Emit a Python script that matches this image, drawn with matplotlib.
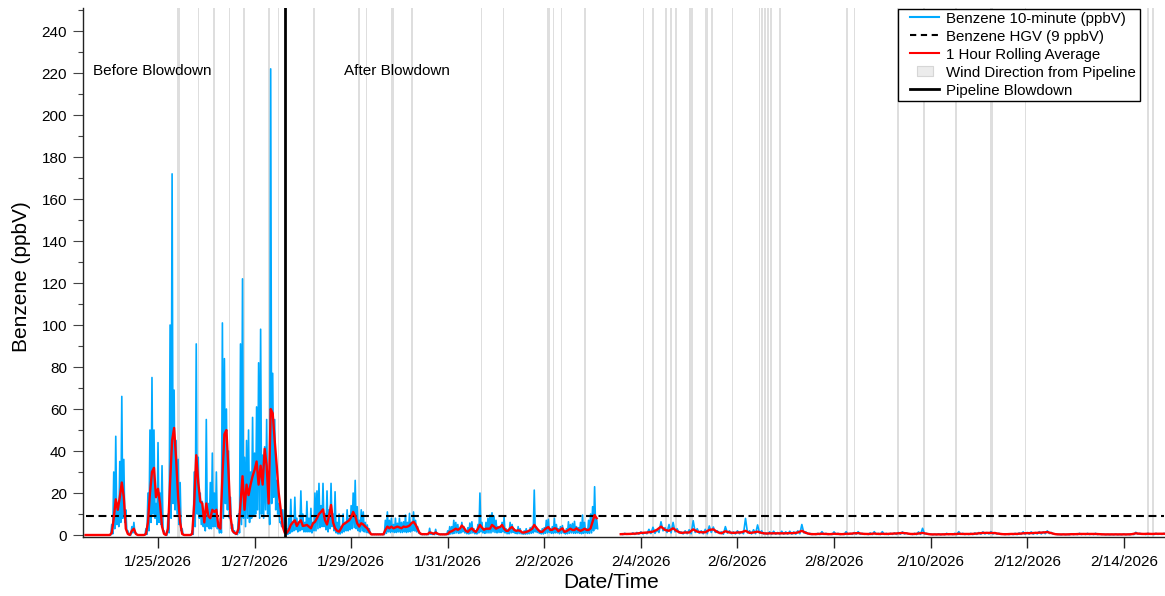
import numpy as np
import pandas as pd
import matplotlib
matplotlib.use("Agg")
import matplotlib.pyplot as plt
from matplotlib.lines import Line2D
from matplotlib.patches import Rectangle
from matplotlib.path import Path

plt.rcParams['font.family'] = ['Liberation Sans', 'DejaVu Sans']

# ---------------- data ----------------
# Part A: hourly peak / trough readings of the 10-minute series, from 1/23/2026 12:00
start_a = '2026-01-23 12:00'
blue_a = [
    0, 0, 0, 0, 0, 0, 0, 0, 0, 0,
    0, 0, 0, 5, 30, 47, 15, 35, 66, 36,
    12, 2, 0, 4, 6, 1, 0, 0, 0, 0,
    3, 20, 50, 75, 50, 15, 44, 20, 33, 2,
    0, 10, 100, 172, 69, 45, 36, 25, 3, 0,
    0, 0, 0, 2, 30, 91, 37, 20, 16, 8,
    55, 15, 25, 39, 20, 30, 6, 8, 101, 84,
    60, 40, 18, 5, 2, 1, 10, 91, 122, 37,
    45, 50, 30, 56, 39, 61, 82, 98, 38, 42,
    55, 25, 222, 77, 55, 26, 15, 6, 12, 8,
    3, 8, 17, 5, 18, 8, 5, 21, 10, 6,
    16, 8, 12.7, 6, 20, 21, 24.6, 14, 24.6, 10,
    21, 12, 24.6, 10, 20.6, 6, 10, 4, 10, 6,
    12, 8, 14, 20, 26, 13.5, 7, 12, 11, 6,
    4.8, 3, 0.5, 0.5, 0.5, 0.5, 0.5, 0.5, 0.5, 7,
    11, 7, 8, 5, 8, 5.6, 8, 6, 6.3, 9.5,
    6, 10.3, 6, 11, 7, 4, 1, 0.5, 0.5, 0.5,
    0.5, 3.2, 0.5, 1, 2.7, 0.5, 0.5, 0.5, 0.5, 0.5,
    2, 4, 4, 7, 6, 5, 2, 6, 4, 2,
    3.5, 5.7, 6.3, 3, 2, 5, 20, 6, 3, 6,
    8, 9.5, 10.6, 9, 7, 4, 3, 6, 8.5, 3,
    2.5, 6, 5, 3, 2, 4, 3, 1, 2, 3,
    2, 3.5, 4, 21.4, 4, 2.5, 2, 3, 3.5, 7,
    7.5, 3, 4, 8, 5, 3, 4, 4.5, 1.5, 3,
    6.3, 5, 5.5, 6.5, 4, 3.5, 6, 9.5, 6, 3,
    7, 10, 13.5, 23, 8,
]
blue_a_low = [
    0, 0, 0, 0, 0, 0, 0, 0, 0, 0,
    0, 0, 0, 0.5, 3, 5, 4, 6, 8, 6,
    2, 0.3, 0, 1, 1, 0.2, 0, 0, 0, 0,
    0.3, 2, 6, 10, 8, 5, 6, 5, 2, 0.2,
    0, 1, 8, 15, 12, 10, 5, 2, 0.2, 0,
    0, 0, 0, 0.3, 4, 10, 8, 5, 4, 2,
    4, 3, 3, 4, 4, 3, 1, 1, 8, 15,
    12, 8, 3, 1, 0.3, 0.2, 1, 5, 8, 4,
    8, 6, 8, 9, 10, 12, 8, 10, 8, 12,
    10, 5, 15, 18, 12, 10, 6, 4, 2, 0.5,
    0.3, 0.8, 1.5, 2, 2.5, 1.5, 2, 2.5, 1.5, 1.5,
    1.5, 1.5, 1, 2, 2, 3, 3.5, 4, 4, 2.5,
    1.5, 3, 4, 2, 1, 0.5, 0.5, 1, 1.5, 2,
    2, 2.5, 3, 3.5, 3, 2, 1.5, 2, 1.5, 1.2,
    1, 0.5, 0.2, 0.2, 0.2, 0.2, 0.2, 0.2, 0.2, 0.8,
    1.5, 1.2, 1.5, 1.2, 1.2, 1.5, 1.2, 1.2, 1.5, 1.2,
    1.5, 1.5, 2, 2, 1.5, 1, 0.3, 0.2, 0.2, 0.2,
    0.2, 0.4, 0.3, 0.2, 0.4, 0.2, 0.2, 0.2, 0.2, 0.2,
    0.2, 0.5, 0.6, 0.8, 1, 0.8, 1, 1.5, 1, 0.6,
    0.5, 0.8, 1, 0.6, 0.5, 1, 1.5, 1, 0.8, 1,
    1, 1, 1.5, 1.2, 1, 1.2, 1.2, 1.5, 1, 0.6,
    0.6, 1, 1.2, 0.8, 0.6, 0.7, 0.6, 0.4, 0.4, 0.5,
    0.6, 0.8, 1, 1.5, 1.2, 0.8, 0.5, 0.5, 0.8, 1,
    1.2, 0.8, 0.8, 1, 1, 0.6, 0.8, 1, 0.5, 0.6,
    0.8, 1, 0.8, 0.8, 1, 0.8, 0.6, 0.8, 1, 0.8,
    0.8, 1, 2, 3, 3,
]
red_a = [
    0, 0, 0, 0, 0, 0, 0, 0, 0, 0,
    0, 0, 0, 1, 8, 17, 12, 18, 25, 18,
    3, 0.5, 0, 2, 3, 0.5, 0, 0, 0, 0,
    0.5, 6, 20, 30, 32, 18, 22, 15, 4, 0.5,
    0, 3, 25, 45, 51, 36, 18, 6, 0.5, 0,
    0, 0, 0, 0.5, 15, 38, 25, 16, 15, 6,
    15, 9, 8, 12, 11, 12, 4, 3, 28, 48,
    50, 31, 9, 2, 1, 0.5, 3, 15, 28, 12,
    24, 19, 24, 28, 31, 35, 24, 33, 24, 41,
    33, 15, 60, 58, 45, 33, 20, 12, 4, 1,
    1, 2.4, 4.8, 6, 7, 4.3, 6, 7, 4.3, 4.5,
    4.8, 4, 3.2, 5.5, 6.3, 8, 10, 11, 12.2, 7,
    5, 9, 14.3, 6, 3.2, 2, 1.6, 3.2, 5, 5.6,
    6.3, 7, 8.5, 11, 9, 5.6, 4, 5.6, 5, 4,
    3.2, 1.6, 0.3, 0.3, 0.3, 0.3, 0.3, 0.3, 0.3, 2.4,
    4, 3.2, 4, 3.2, 3.6, 4, 3.6, 3.2, 4, 3.8,
    4, 4.5, 5.6, 6.3, 5, 3, 1, 0.4, 0.4, 0.4,
    0.4, 1.2, 1, 0.5, 1.2, 0.6, 0.3, 0.3, 0.3, 0.3,
    0.5, 1.5, 1.8, 2.4, 3, 2.5, 3, 4.5, 3.5, 2,
    1.5, 2.5, 3.2, 2, 1.5, 3, 4.8, 3.5, 2.5, 3,
    3, 3, 4.8, 4, 3, 3.5, 3.8, 4.8, 3, 2,
    2, 3.2, 3.8, 2.5, 2, 2.2, 2, 1.2, 1.2, 1.5,
    1.8, 2.4, 3, 4.8, 3.5, 2.4, 1.5, 1.5, 2.5, 3.2,
    3.8, 2.4, 2.5, 3.2, 3, 1.8, 2.5, 3.2, 1.5, 1.8,
    2.4, 3, 2.4, 2.4, 3.2, 2.4, 2, 2.4, 3, 2.4,
    2.4, 3.2, 6.3, 9.5, 8,
]

# Part B: 2-hourly peak / trough readings after the data gap, from 2/3/2026 14:00
start_b = '2026-02-03 14:00'
blue_b = [
    0.5, 0.8, 0.6, 1.0, 1.2, 1.5, 1.2, 2.7, 3.7, 2.5,
    6.3, 3.5, 5.0, 6.0, 3.0, 1.5, 2.0, 2.5, 6.8, 3.0,
    2.0, 2.7, 4.3, 3.8, 2.0, 1.5, 4.0, 2.0, 1.5, 2.0,
    1.5, 7.9, 2.0, 2.5, 4.8, 2.0, 1.0, 1.5, 1.8, 1.2,
    1.8, 1.5, 1.8, 1.5, 2.0, 5.0, 1.5, 0.8, 0.6, 0.8,
    1.6, 0.8, 0.6, 1.5, 0.8, 0.6, 1.6, 0.8, 1.2, 1.6,
    0.8, 0.6, 1.0, 1.6, 0.8, 1.6, 0.8,
    0.8, 1.0, 1.2, 1.5, 1.0, 0.6, 0.8, 1.5, 3.2, 0.8,
    0.5, 0.4, 0.6, 0.5, 0.8, 0.6, 0.8, 1.6, 0.8, 0.6,
    0.8, 1.0, 1.2, 1.5, 1.2, 1.6, 1.2, 0.8, 0.5, 0.5,
    0.6, 0.8, 1.0, 1.5, 1.2, 1.5, 1.2, 1.6, 1.5, 2.0,
    1.2, 0.5, 0.3, 0.4, 0.3, 0.6, 0.5, 0.8, 0.6, 0.8,
    0.6, 0.8, 0.5, 0.4, 0.3, 0.3, 0.4, 0.3, 0.5, 0.4,
    0.5, 1.3, 0.8, 0.6, 0.8, 0.6, 0.8, 0.6, 0.8,
]
blue_b_low = [
    0.2, 0.3, 0.3, 0.3, 0.4, 0.5, 0.6, 0.7, 0.8, 1.2,
    2.0, 1.2, 1.0, 1.5, 0.9, 0.5, 0.6, 0.6, 1.2, 0.8,
    0.6, 0.6, 1.2, 1.2, 0.7, 0.4, 0.9, 0.6, 0.5, 0.6,
    0.6, 1.0, 0.5, 0.6, 0.8, 0.5, 0.3, 0.4, 0.4, 0.4,
    0.4, 0.4, 0.4, 0.4, 0.6, 1.0, 0.5, 0.2, 0.2, 0.2,
    0.3, 0.2, 0.2, 0.3, 0.2, 0.2, 0.3, 0.3, 0.4, 0.4,
    0.3, 0.2, 0.2, 0.3, 0.2, 0.3, 0.2,
    0.3, 0.3, 0.4, 0.5, 0.4, 0.2, 0.2, 0.3, 0.5, 0.3,
    0.1, 0.1, 0.1, 0.1, 0.2, 0.2, 0.2, 0.3, 0.2, 0.2,
    0.2, 0.3, 0.4, 0.5, 0.5, 0.5, 0.4, 0.3, 0.2, 0.2,
    0.2, 0.2, 0.3, 0.4, 0.4, 0.4, 0.5, 0.5, 0.6, 0.7,
    0.4, 0.2, 0.1, 0.1, 0.1, 0.2, 0.2, 0.2, 0.2, 0.2,
    0.2, 0.2, 0.2, 0.1, 0.1, 0.1, 0.1, 0.1, 0.1, 0.1,
    0.2, 0.4, 0.3, 0.2, 0.3, 0.2, 0.3, 0.3, 0.3,
]
red_b = [
    0.4, 0.5, 0.5, 0.6, 0.7, 1.0, 1.1, 1.3, 1.6, 2.5,
    4.0, 2.4, 2.0, 3.2, 1.8, 1.0, 1.2, 1.2, 2.7, 1.6,
    1.3, 1.3, 2.4, 2.7, 1.4, 0.8, 1.8, 1.2, 1.0, 1.2,
    1.3, 2.0, 1.0, 1.2, 1.6, 1.0, 0.7, 0.8, 0.8, 0.8,
    0.8, 0.8, 0.9, 0.9, 1.2, 2.0, 1.0, 0.5, 0.4, 0.5,
    0.6, 0.5, 0.4, 0.6, 0.5, 0.4, 0.6, 0.6, 0.8, 0.9,
    0.6, 0.5, 0.5, 0.7, 0.5, 0.6, 0.5,
    0.6, 0.7, 0.8, 1.0, 0.8, 0.5, 0.5, 0.7, 1.0, 0.6,
    0.3, 0.3, 0.3, 0.3, 0.4, 0.4, 0.4, 0.6, 0.5, 0.5,
    0.5, 0.6, 0.8, 1.0, 1.0, 1.0, 0.9, 0.6, 0.4, 0.4,
    0.5, 0.5, 0.6, 0.8, 0.9, 0.9, 1.0, 1.1, 1.2, 1.4,
    0.9, 0.4, 0.3, 0.3, 0.3, 0.4, 0.4, 0.5, 0.5, 0.5,
    0.5, 0.5, 0.4, 0.3, 0.3, 0.3, 0.3, 0.3, 0.3, 0.3,
    0.4, 0.8, 0.6, 0.5, 0.6, 0.5, 0.6, 0.6, 0.6,
]

hgv_value = 9
blowdown_time = '2026-01-27 15:00'

# periods when wind blew from the pipeline (start time, duration in hours)
wind_start = [
    '2026-01-25 09:26', '2026-01-25 19:38', '2026-01-26 03:20', '2026-01-26 11:12',
    '2026-01-26 18:15', '2026-01-27 06:41', '2026-01-27 11:30', '2026-01-28 05:03',
    '2026-01-29 03:25', '2026-01-29 07:15', '2026-01-29 20:00', '2026-01-30 05:54',
    '2026-01-31 16:24', '2026-02-01 03:21', '2026-02-02 01:30', '2026-02-02 04:12',
    '2026-02-02 08:12', '2026-02-02 19:48', '2026-02-04 00:51', '2026-02-04 05:30',
    '2026-02-04 12:00', '2026-02-04 14:40', '2026-02-04 17:07', '2026-02-05 00:00',
    '2026-02-05 01:00', '2026-02-05 08:00', '2026-02-05 10:54', '2026-02-05 21:08',
    '2026-02-06 10:36', '2026-02-06 11:45', '2026-02-06 13:26', '2026-02-06 14:44',
    '2026-02-06 16:13', '2026-02-06 20:53', '2026-02-08 06:00', '2026-02-08 09:43',
    '2026-02-09 07:21', '2026-02-09 20:17', '2026-02-10 12:11', '2026-02-11 05:30',
    '2026-02-11 22:50', '2026-02-14 11:37', '2026-02-14 14:04',
]
wind_hours = [
    1.6, 0.8, 0.8, 0.8,
    0.8, 0.8, 0.8, 0.8,
    0.8, 0.8, 1.1, 0.8,
    0.8, 0.8, 1.5, 0.8,
    0.8, 0.8, 0.8, 0.8,
    0.8, 0.8, 0.8, 0.8,
    0.8, 1.5, 0.8, 0.8,
    0.8, 0.8, 0.8, 0.8,
    0.8, 0.8, 0.8, 0.8,
    0.8, 0.8, 0.8, 1.5,
    0.8, 0.8, 0.8,
]

tick_dates = ['2026-01-25', '2026-01-27', '2026-01-29', '2026-01-31', '2026-02-02',
              '2026-02-04', '2026-02-06', '2026-02-08', '2026-02-10', '2026-02-12',
              '2026-02-14']
tick_labels = ['1/25/2026', '1/27/2026', '1/29/2026', '1/31/2026', '2/2/2026',
               '2/4/2026', '2/6/2026', '2/8/2026', '2/10/2026', '2/12/2026',
               '2/14/2026']
x_range = ['2026-01-23 10:43', '2026-02-14 20:30']
y_range = (-0.95, 251)

# ---------------- build series ----------------
t_a = pd.date_range(start_a, periods=len(blue_a), freq='h')
t_b = pd.date_range(start_b, periods=len(blue_b), freq='2h')
half_a = pd.Timedelta(minutes=30)
half_b = pd.Timedelta(hours=1)

blue_t, blue_v = [], []
for t, hi, lo in zip(t_a, blue_a, blue_a_low):
    blue_t += [t, t + half_a]
    blue_v += [hi, lo]
blue_t.append(t_a[-1] + pd.Timedelta(hours=1))
blue_v.append(np.nan)
for t, hi, lo in zip(t_b, blue_b, blue_b_low):
    blue_t += [t, t + half_b]
    blue_v += [hi, lo]

red_t = list(t_a) + [t_a[-1] + pd.Timedelta(hours=1)] + list(t_b)
red_v = list(red_a) + [np.nan] + list(red_b)

# ---------------- plot ----------------
W, H = 1165, 596
fig = plt.figure(figsize=(W / 100, H / 100), dpi=100)
L, R, T, B = 83, 1165, 8, 537
ax = fig.add_axes([L / W, (H - B) / H, (R - L) / W, (B - T) / H])

BLUE = '#00aaff'
GRAY = '#dedede'

for s, d in zip(wind_start, wind_hours):
    t0 = pd.Timestamp(s)
    ax.axvspan(t0, t0 + pd.Timedelta(hours=d), color=GRAY, lw=0, zorder=0)

ax.plot(blue_t, blue_v, color=BLUE, lw=1.2, zorder=2)
ax.hlines(hgv_value, t_a[0], t_b[-1], colors='black', linestyles=(0, (3.8, 2.2)),
          lw=1.5, zorder=3)
ax.plot(red_t, red_v, color='#ff0000', lw=1.7, zorder=4)
ax.axvline(pd.Timestamp(blowdown_time), color='black', lw=2.0, zorder=5)

ax.set_xlim(pd.Timestamp(x_range[0]), pd.Timestamp(x_range[1]))
ax.set_ylim(*y_range)

ax.set_xticks([pd.Timestamp(d) for d in tick_dates])
ax.set_xticklabels(tick_labels)
ax.set_yticks(np.arange(0, 241, 20))
ax.set_yticks(np.arange(0, 251, 10), minor=True)

for sp in ['top', 'right']:
    ax.spines[sp].set_visible(False)
for sp in ['left', 'bottom']:
    ax.spines[sp].set_color('#222222')
    ax.spines[sp].set_linewidth(1.0)

ax.tick_params(axis='x', which='major', length=8, width=1.0, pad=5,
               labelsize=11, color='#222222')
ax.tick_params(axis='y', which='major', length=7.5, width=0.8, pad=4,
               labelsize=11, color='#444444')
ax.tick_params(axis='y', which='minor', length=3.8, width=0.8, color='#444444')

ax.set_xlabel('Date/Time', fontsize=15)
ax.set_ylabel('Benzene (ppbV)', fontsize=15)
ax.xaxis.set_label_coords((611 - L) / (R - L), (B - 583) / (B - T))
ax.xaxis.label.set_va('center')
ax.yaxis.set_label_coords((22 - L) / (R - L), (B - 277) / (B - T))
ax.yaxis.label.set_va('center')

ax.text((93 - L) / (R - L), (B - 71) / (B - T), 'Before Blowdown', transform=ax.transAxes,
        fontsize=11, ha='left', va='center')
ax.text((344 - L) / (R - L), (B - 71) / (B - T), 'After Blowdown', transform=ax.transAxes,
        fontsize=11, ha='left', va='center')

# legend: frame drawn as its own box, entries placed inside
box = Rectangle((898 / W, (H - 101) / H), 242 / W, 92 / H, transform=fig.transFigure,
                facecolor='white', edgecolor='black', lw=1.0, zorder=9)
fig.patches.append(box)

rect = Path([(-1, -0.6), (1, -0.6), (1, 0.6), (-1, 0.6), (-1, -0.6)],
            [Path.MOVETO, Path.LINETO, Path.LINETO, Path.LINETO, Path.CLOSEPOLY])
handles = [
    Line2D([], [], color=BLUE, lw=1.5),
    Line2D([], [], color='black', lw=1.5, linestyle=(0, (3.0, 2.2))),
    Line2D([], [], color='#ff0000', lw=1.5),
    Line2D([], [], linestyle='none', marker=rect, markersize=11,
           markerfacecolor='#ececec', markeredgecolor='#d6d6d6', markeredgewidth=0.8),
    Line2D([], [], color='black', lw=2.0),
]
labels = ['Benzene 10-minute (ppbV)', 'Benzene HGV (9 ppbV)', '1 Hour Rolling Average',
          'Wind Direction from Pipeline', 'Pipeline Blowdown']
leg = fig.legend(handles, labels, loc='upper left',
                 bbox_to_anchor=(910 / W, (H - 11.5) / H),
                 borderaxespad=0, borderpad=0, fontsize=10.8, frameon=False,
                 handlelength=1.95, handletextpad=0.45, labelspacing=0.27)
leg.set_zorder(10)

fig.savefig('out.png', dpi=100)
